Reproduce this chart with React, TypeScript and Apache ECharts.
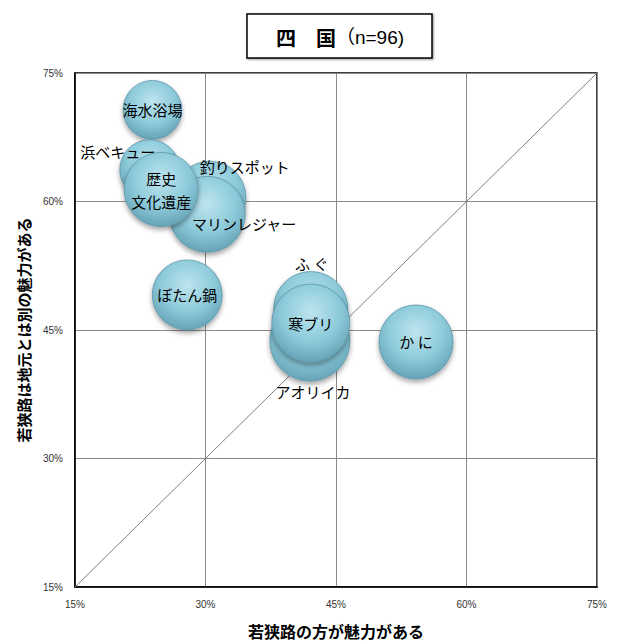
import React, { useEffect, useRef } from "react";
import * as echarts from "echarts";

const names = ["海水浴場", "釣りスポット", "マリンレジャー", "浜ベキュー", "歴史\n文化遺産", "ぼたん鍋", "ふ ぐ", "アオリイカ", "寒ブリ", "か に"];
const xValues = [23.9, 30.5, 30.2, 23.6, 24.9, 27.9, 42.1, 42.0, 42.1, 54.2];
const yValues = [70.7, 60.5, 58.5, 63.7, 61.4, 49.1, 47.5, 43.7, 45.8, 43.6];
const sizes = [86, 130, 144, 90, 137, 122, 137, 160, 152, 137];
const axisTicks = [15, 30, 45, 60, 75];

const labelOffsets: Record<string, [number, number]> = {
  "釣りスポット": [35, -31],
  "マリンレジャー": [37, 9],
  "浜ベキュー": [-32, -18],
  "ふ ぐ": [1, -45],
  "アオリイカ": [3, 50],
};

const FONT = "'Noto Sans CJK JP', 'Noto Sans', sans-serif";

export default function App() {
  const ref = useRef<HTMLDivElement>(null);
  useEffect(() => {
    document.body.style.margin = "0";
    if (!ref.current) return;
    const chart = echarts.init(ref.current, null, { renderer: "svg" });
    const bubbleFill = new echarts.graphic.RadialGradient(0.5, 0.36, 0.64, [
      { offset: 0, color: "#bde4ee" },
      { offset: 0.6, color: "#8ccada" },
      { offset: 1, color: "#66a3b6" },
    ]);
    const data = names.map((n, i) => ({
      name: n,
      value: [xValues[i], yValues[i], sizes[i]],
    }));
    chart.setOption({
      animation: false,
      graphic: [
        {
          type: "rect",
          shape: { x: 247, y: 14, width: 185, height: 44 },
          style: { fill: "#fff", stroke: "#000", lineWidth: 1.5, shadowBlur: 2, shadowColor: "rgba(0,0,0,0.4)", shadowOffsetX: 1, shadowOffsetY: 1 },
        },
        {
          type: "text",
          x: 340,
          y: 37,
          style: {
            text: "{b|四　国}{n|（n=96)}",
            align: "center",
            verticalAlign: "middle",
            rich: {
              b: { fontSize: 20, fontWeight: "bold", fontFamily: FONT, fill: "#000" },
              n: { fontSize: 19, fontFamily: "'Liberation Sans', " + FONT, fill: "#000" },
            },
          },
        },
      ],
      grid: { left: 75, right: 24, top: 73, bottom: 54, show: true, borderColor: "#000", borderWidth: 1.5 },
      xAxis: {
        type: "value",
        min: 15,
        max: 75,
        interval: 15,
        name: "若狭路の方が魅力がある",
        nameLocation: "middle",
        nameGap: 36,
        nameTextStyle: { fontSize: 16, fontWeight: "bold", fontFamily: FONT, color: "#000" },
        axisLine: { show: true, lineStyle: { color: "#000", width: 1.5 } },
        axisTick: { show: false },
        axisLabel: { formatter: (v: number) => (axisTicks.includes(v) ? v + "%" : ""), fontSize: 10, color: "#333", margin: 12, fontFamily: "'Liberation Sans', sans-serif" },
        splitLine: { show: true, lineStyle: { color: "#8a8a8a", width: 1 } },
      },
      yAxis: {
        type: "value",
        min: 15,
        max: 75,
        interval: 15,
        name: "若狭路は地元とは別の魅力がある",
        nameLocation: "middle",
        nameGap: 44,
        nameTextStyle: { fontSize: 15, fontWeight: "bold", fontFamily: FONT, color: "#000" },
        axisLine: { show: true, lineStyle: { color: "#000", width: 1.5 } },
        axisTick: { show: false },
        axisLabel: { formatter: (v: number) => v + "%", fontSize: 10, color: "#333", margin: 12, fontFamily: "'Liberation Sans', sans-serif" },
        splitLine: { show: true, lineStyle: { color: "#8a8a8a", width: 1 } },
      },
      series: [
        {
          type: "line",
          data: [[15, 15], [75, 75]],
          symbol: "none",
          lineStyle: { color: "#808080", width: 1 },
          z: 1,
          silent: true,
        },
        {
          type: "scatter",
          z: 3,
          data,
          symbolSize: (v: number[]) => 2 * Math.sqrt(10 * v[2]),
          itemStyle: {
            color: bubbleFill,
            borderColor: "#5d96a8",
            borderWidth: 0.8,
            shadowBlur: 5,
            shadowColor: "rgba(0,0,0,0.35)",
            shadowOffsetY: 3,
            opacity: 1,
          },
          label: {
            show: true,
            position: "inside",
            formatter: (p: any) => p.name,
            fontSize: 15,
            fontFamily: FONT,
            color: "#000",
            lineHeight: 23,
          },
          labelLayout: (params: any) => {
            const off = labelOffsets[names[params.dataIndex]] || [0, 0];
            return { dx: off[0], dy: off[1], hideOverlap: false };
          },
        },
      ],
    });
    return () => chart.dispose();
  }, []);
  return <div ref={ref} style={{ width: 621, height: 644 }} />;
}
